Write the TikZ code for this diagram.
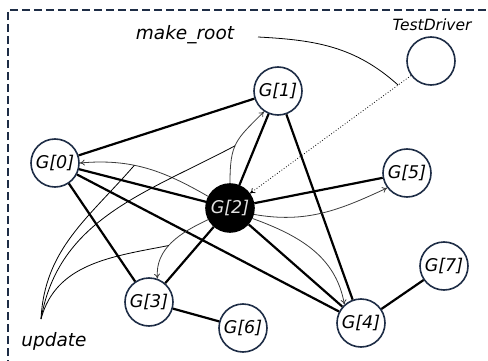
\documentclass[tikz,border=0pt]{standalone}
\usepackage{fontspec}
\setmainfont{DejaVu Sans}
\usetikzlibrary{arrows.meta}
\definecolor{navy}{RGB}{30,45,70}
\definecolor{arcgray}{RGB}{60,60,60}
\definecolor{lighttext}{RGB}{225,225,225}
\begin{document}
\begin{tikzpicture}[x=1pt,y=1pt,
  gnode/.style={circle,draw=navy,line width=1.6pt,fill=white,minimum size=48pt,inner sep=0pt,
    font=\fontsize{17.5}{20}\selectfont\itshape},
  edge/.style={line width=2.2pt,black},
  flow/.style={draw=arcgray,line width=0.8pt,-{To[length=5pt,width=6pt]}},
  note/.style={line width=0.8pt,black},
  lbl/.style={inner sep=0pt,font=\fontsize{18.5}{22}\selectfont\itshape}]
\clip (0,0) rectangle (488,360);
\draw[navy,line width=1.5pt,dash pattern=on 8pt off 4pt] (8,-20) -- (8,350) -- (500,350);

\node[gnode] (TD) at (431,299) {};
\node[inner sep=0pt,font=\fontsize{15.5}{18}\selectfont\itshape] (tdl) at (432,335) {TestDriver};
\node[gnode] (G1) at (278,269) {G[1]};
\node[gnode] (G0) at (55,197) {G[0]};
\node[gnode] (G5) at (407,187) {G[5]};
\node[gnode,fill=black,draw=black,text=lighttext] (G2) at (230,152) {G[2]};
\node[gnode] (G3) at (149,58) {G[3]};
\node[gnode] (G6) at (243,32) {G[6]};
\node[gnode] (G4) at (361,37) {G[4]};
\node[gnode] (G7) at (444,94) {G[7]};
\node[lbl] (mkr) at (185,325) {make\_root};
\node[lbl] (upd) at (54,19) {update};

\draw[edge] (G0) -- (G1);
\draw[edge] (G0) -- (G2);
\draw[edge] (G0) -- (G3);
\draw[edge] (G0) -- (G4);
\draw[edge] (G1) -- (G2);
\draw[edge] (G1) -- (G4);
\draw[edge] (G2) -- (G5);
\draw[edge] (G2) -- (G3);
\draw[edge] (G2) -- (G4);
\draw[edge] (G3) -- (G6);
\draw[edge] (G4) -- (G7);

\draw[flow] (G2.152) to[out=150,in=5] coordinate[pos=0.6] (a0) (G0.east);
\draw[flow] (G2.90) to[out=90,in=225,looseness=1.3] coordinate[pos=0.45] (a1) (G1.236);
\draw[flow] (G2.-15) to[out=-10,in=205] (G5.217);
\draw[flow] (G2.-25) to[out=-20,in=100] (G4.132);
\draw[flow] (G2.208) to[out=205,in=95] coordinate[pos=0.55] (a3) (G3.70);

\draw[dotted,line width=0.8pt,-{To[length=5pt,width=6pt]}] (TD) -- coordinate[pos=0.08] (mr) (G2);

\coordinate (mrs) at (258,323);
\draw[note] (mrs) to[out=-3,in=138] (mr);

\coordinate (us) at (41,41);
\draw[note] (us) to[out=87,in=229] (a0);
\draw[note] (us) to[out=80,in=208] (a1);
\draw[note] (us) to[out=75,in=191] (a3);
\end{tikzpicture}
\end{document}
